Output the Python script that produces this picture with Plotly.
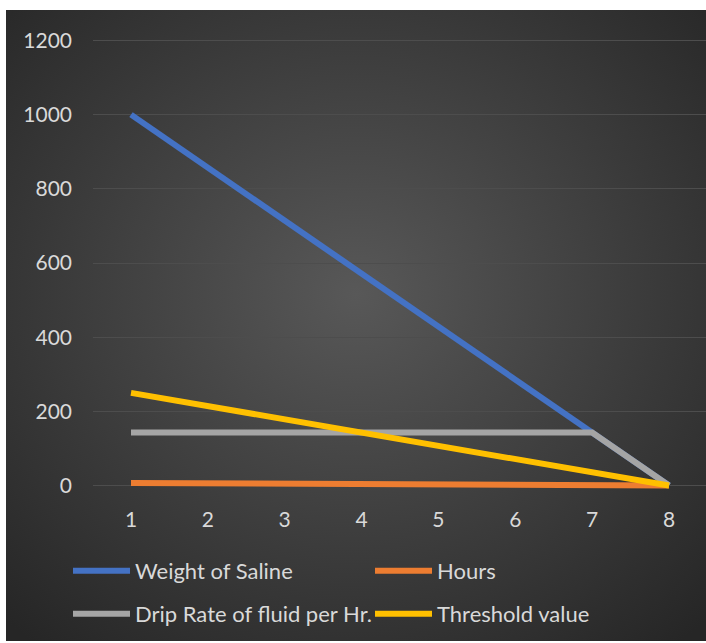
import base64
import plotly.graph_objects as go

categories = [1, 2, 3, 4, 5, 6, 7, 8]
weight_of_saline = [1000, 857.1, 714.3, 571.4, 428.6, 285.7, 142.9, 0]
hours = [7, 6, 5, 4, 3, 2, 1, 0]
drip_rate = [142.9, 142.9, 142.9, 142.9, 142.9, 142.9, 142.9, 0]
threshold = [250, 214.3, 178.6, 142.9, 107.1, 71.4, 35.7, 0]
y_ticks = [0, 200, 400, 600, 800, 1000, 1200]

W, H = 706, 643
L, R, T, B = 93, 0, 33, 150
pw, ph = W - L - R, H - T - B

FONT = "Lato, Noto Sans, sans-serif"
FS = 21
TXT = "#d9d9d9"

svg = (
    '<svg xmlns="http://www.w3.org/2000/svg" width="700" height="631" preserveAspectRatio="none">'
    '<defs><radialGradient id="g" cx="50%" cy="45%" r="72%">'
    '<stop offset="0%" stop-color="#585858"/>'
    '<stop offset="100%" stop-color="#262626"/>'
    '</radialGradient></defs>'
    '<rect width="700" height="631" fill="url(#g)"/></svg>'
)
src = "data:image/svg+xml;base64," + base64.b64encode(svg.encode()).decode()

fig = go.Figure()
series = [
    ("Weight of Saline", weight_of_saline, "#4472C4", "legend"),
    ("Hours", hours, "#ED7D31", "legend2"),
    ("Drip Rate of fluid per Hr.", drip_rate, "#A5A5A5", "legend3"),
    ("Threshold value", threshold, "#FFC000", "legend4"),
]
for name, vals, col, lg in series:
    fig.add_trace(go.Scatter(x=categories, y=vals, name=name, mode="lines",
                             line=dict(color=col, width=6), cliponaxis=False,
                             legend=lg))

# panel position in paper coordinates
px0, py0, px1, py1 = 6, 10, 706, 641
fig.add_layout_image(dict(
    source=src, xref="paper", yref="paper",
    x=(px0 - L) / pw, y=(H - B - py0) / ph,
    sizex=(px1 - px0) / pw, sizey=(py1 - py0) / ph,
    xanchor="left", yanchor="top", sizing="stretch", layer="below",
))


def legend_cfg(xleft, ycenter):
    return dict(orientation="h", xref="container", yref="container",
                x=(xleft - 5) / W, y=1 - ycenter / H, xanchor="left", yanchor="middle",
                itemwidth=57,
                font=dict(family=FONT, size=22, color=TXT),
                bgcolor="rgba(0,0,0,0)")


ppu = 538 / 7
fig.update_layout(
    width=W, height=H,
    margin=dict(l=L, r=R, t=T, b=B, pad=0),
    paper_bgcolor="white", plot_bgcolor="rgba(0,0,0,0)",
    font=dict(family=FONT, size=FS, color=TXT),
    showlegend=True,
    legend=legend_cfg(73, 571),
    legend2=legend_cfg(375, 571),
    legend3=legend_cfg(73, 614),
    legend4=legend_cfg(375, 614),
    xaxis=dict(type="linear", range=[1 - 38 / ppu, 8 + 37 / ppu],
               tickvals=categories, ticktext=[str(c) for c in categories],
               showgrid=False, zeroline=False, showline=False, ticks="",
               ticklabelstandoff=12, tickfont=dict(size=FS, color=TXT)),
    yaxis=dict(range=[-20, 1220], tickvals=y_ticks,
               showgrid=True, gridcolor="#4d4d4d", gridwidth=1,
               zeroline=False, showline=False, ticks="",
               ticklabelstandoff=20, tickfont=dict(size=FS, color=TXT)),
)

fig.write_html("out.html", config={"displayModeBar": False},
               post_script="document.body.style.margin='0';document.body.style.overflow='hidden';")
